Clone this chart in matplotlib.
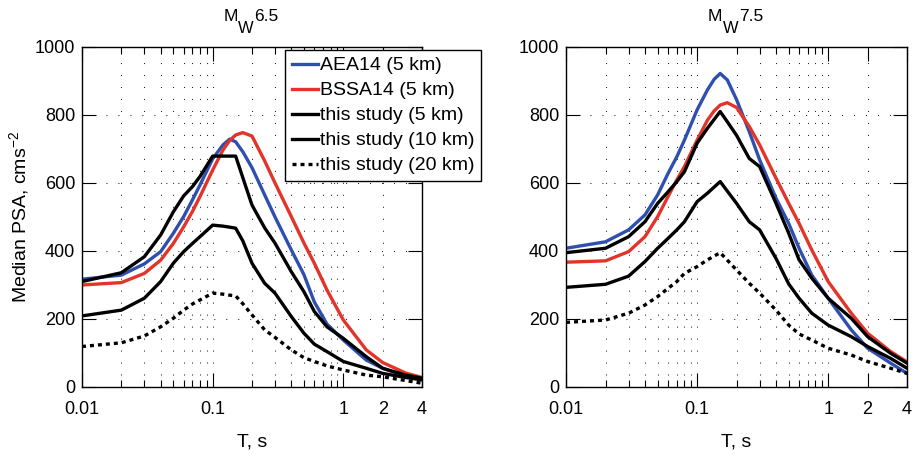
import matplotlib
matplotlib.use("Agg")
import matplotlib.pyplot as plt
from matplotlib.ticker import FixedLocator, NullFormatter

plt.rcParams['font.family'] = ['Liberation Sans', 'DejaVu Sans']
plt.rcParams['mathtext.fontset'] = 'custom'
plt.rcParams['mathtext.rm'] = 'Liberation Sans'

# periods (s)
T = [0.01, 0.02, 0.03, 0.04, 0.05, 0.06, 0.07, 0.08, 0.1, 0.12, 0.135, 0.15,
     0.17, 0.2, 0.25, 0.3, 0.4, 0.5, 0.6, 0.75, 1, 1.5, 2, 3, 4]

# Mw 6.5
aea_65 = [317, 329, 362, 398, 452, 501, 550, 594, 671, 712, 729, 721,
          692, 645, 565, 500, 403, 330, 250, 185, 138, 79, 55, 32, 26]
bssa_65 = [300, 307, 334, 373, 422, 471, 516, 560, 638, 697, 725, 741,
           748, 738, 665, 600, 501, 423, 364, 285, 197, 109, 72, 41, 28]
s5_65 = [310, 336, 383, 447, 515, 562, 589, 619, 679, 679, 679, 679,
         616, 535, 468, 423, 339, 280, 222, 177, 143, 89, 55, 35, 26]
s10_65 = [209, 226, 261, 310, 364, 398, 422, 442, 476, 473, 470, 467,
          430, 364, 305, 276, 207, 158, 126, 104, 75, 55, 40, 28, 21]
s20_65 = [119, 130, 150, 177, 202, 226, 244, 256, 276, 273, 270, 268,
          245, 212, 168, 146, 109, 86, 75, 62, 50, 35, 30, 19, 11]

# Mw 7.5
aea_75 = [408, 427, 462, 506, 565, 628, 677, 726, 815, 874, 905, 922,
          903, 845, 751, 668, 555, 481, 408, 329, 261, 168, 114, 70, 40]
bssa_75 = [367, 371, 398, 442, 501, 560, 609, 648, 726, 785, 812, 829,
           836, 822, 766, 712, 614, 540, 481, 403, 310, 217, 158, 104, 74]
s5_75 = [395, 408, 442, 486, 540, 574, 604, 633, 717, 761, 787, 810,
         780, 740, 672, 648, 540, 452, 374, 320, 261, 202, 148, 99, 70]
s10_75 = [293, 302, 326, 369, 408, 437, 462, 486, 545, 570, 588, 604,
          576, 540, 486, 462, 378, 303, 261, 217, 182, 148, 119, 84, 55]
s20_75 = [190, 197, 217, 241, 266, 290, 310, 334, 354, 374, 385, 395,
          373, 344, 305, 276, 226, 182, 156, 138, 114, 94, 75, 55, 40]

magnitudes = ['6.5', '7.5']
labels = ['AEA14 (5 km)', 'BSSA14 (5 km)', 'this study (5 km)',
          'this study (10 km)', 'this study (20 km)']

major_x = [0.01, 0.1, 1, 2, 4]
minor_x = [0.02, 0.03, 0.04, 0.05, 0.06, 0.07, 0.08, 0.09,
           0.2, 0.3, 0.4, 0.5, 0.6, 0.7, 0.8, 0.9]


def mw_title(ax, mag, size=12.5):
    # M, big subscript W, then magnitude (matlab style title)
    tm = ax.annotate('M', xy=(0.5, 1), xycoords='axes fraction',
                     xytext=(-20.5, 18.5), textcoords='offset points',
                     ha='left', va='baseline', fontsize=size)
    tw = ax.annotate('W', xy=(1, 0), xycoords=tm, xytext=(0, -8.6),
                     textcoords='offset points', ha='left', va='bottom',
                     fontsize=size * 0.95)
    ax.annotate(mag, xy=(1, 0), xycoords=tw, xytext=(0.5, 8.6),
                textcoords='offset points', ha='left', va='bottom',
                fontsize=size)


fig = plt.figure(figsize=(9.13, 4.54), dpi=100)
ax1 = fig.add_axes([0.0898, 0.1476, 0.3724, 0.749])
ax2 = fig.add_axes([0.620, 0.1476, 0.3735, 0.749])

panels = [(ax1, aea_65, bssa_65, s5_65, s10_65, s20_65),
          (ax2, aea_75, bssa_75, s5_75, s10_75, s20_75)]

for i, (ax, aea, bssa, s5, s10, s20) in enumerate(panels):
    lw = 2.4
    ax.plot(T, aea, color='#2f4fb0', lw=lw, label=labels[0])
    ax.plot(T, bssa, color='#e3342a', lw=lw, label=labels[1])
    ax.plot(T, s5, color='black', lw=lw, label=labels[2])
    ax.plot(T, s10, color='black', lw=lw, label=labels[3])
    ax.plot(T, s20, color='black', lw=lw, ls=(0, (1.2, 1.2)), label=labels[4])

    ax.set_xscale('log')
    ax.set_xlim(0.01, 4)
    ax.set_ylim(0, 1000)
    ax.xaxis.set_major_locator(FixedLocator(major_x))
    ax.xaxis.set_minor_locator(FixedLocator(minor_x))
    ax.xaxis.set_minor_formatter(NullFormatter())
    ax.set_xticklabels(['0.01', '0.1', '1', '2', '4'])
    ax.set_yticks([0, 200, 400, 600, 800, 1000])

    ax.grid(True, which='both', axis='x', color='#222222', lw=0.75,
            ls=(0, (1, 10.5)))
    ax.grid(True, which='major', axis='y', color='#222222', lw=0.75,
            ls=(0, (1, 10.5)))
    ax.tick_params(which='both', direction='in', top=True, right=True,
                   labelsize=13, width=0.8)
    ax.tick_params(axis='x', pad=10)
    ax.tick_params(axis='y', pad=5)
    ax.tick_params(which='major', length=10)
    ax.tick_params(which='minor', length=5)
    for s in ax.spines.values():
        s.set_linewidth(1.0)

    ax.set_xlabel('T, s', fontsize=14, labelpad=11)
    mw_title(ax, magnitudes[i])

ax1.set_ylabel('Median PSA, cms$^{\\mathregular{-2}}$', fontsize=14, labelpad=2)

leg = ax1.legend(loc='upper right', bbox_to_anchor=(1.174, 0.991),
                 borderaxespad=0, fontsize=14, handlelength=1.35,
                 handletextpad=0.08, labelspacing=0.38, borderpad=0.35,
                 fancybox=False, framealpha=1, edgecolor='black')
leg.get_frame().set_linewidth(1.0)

fig.savefig('out.png', dpi=100)
